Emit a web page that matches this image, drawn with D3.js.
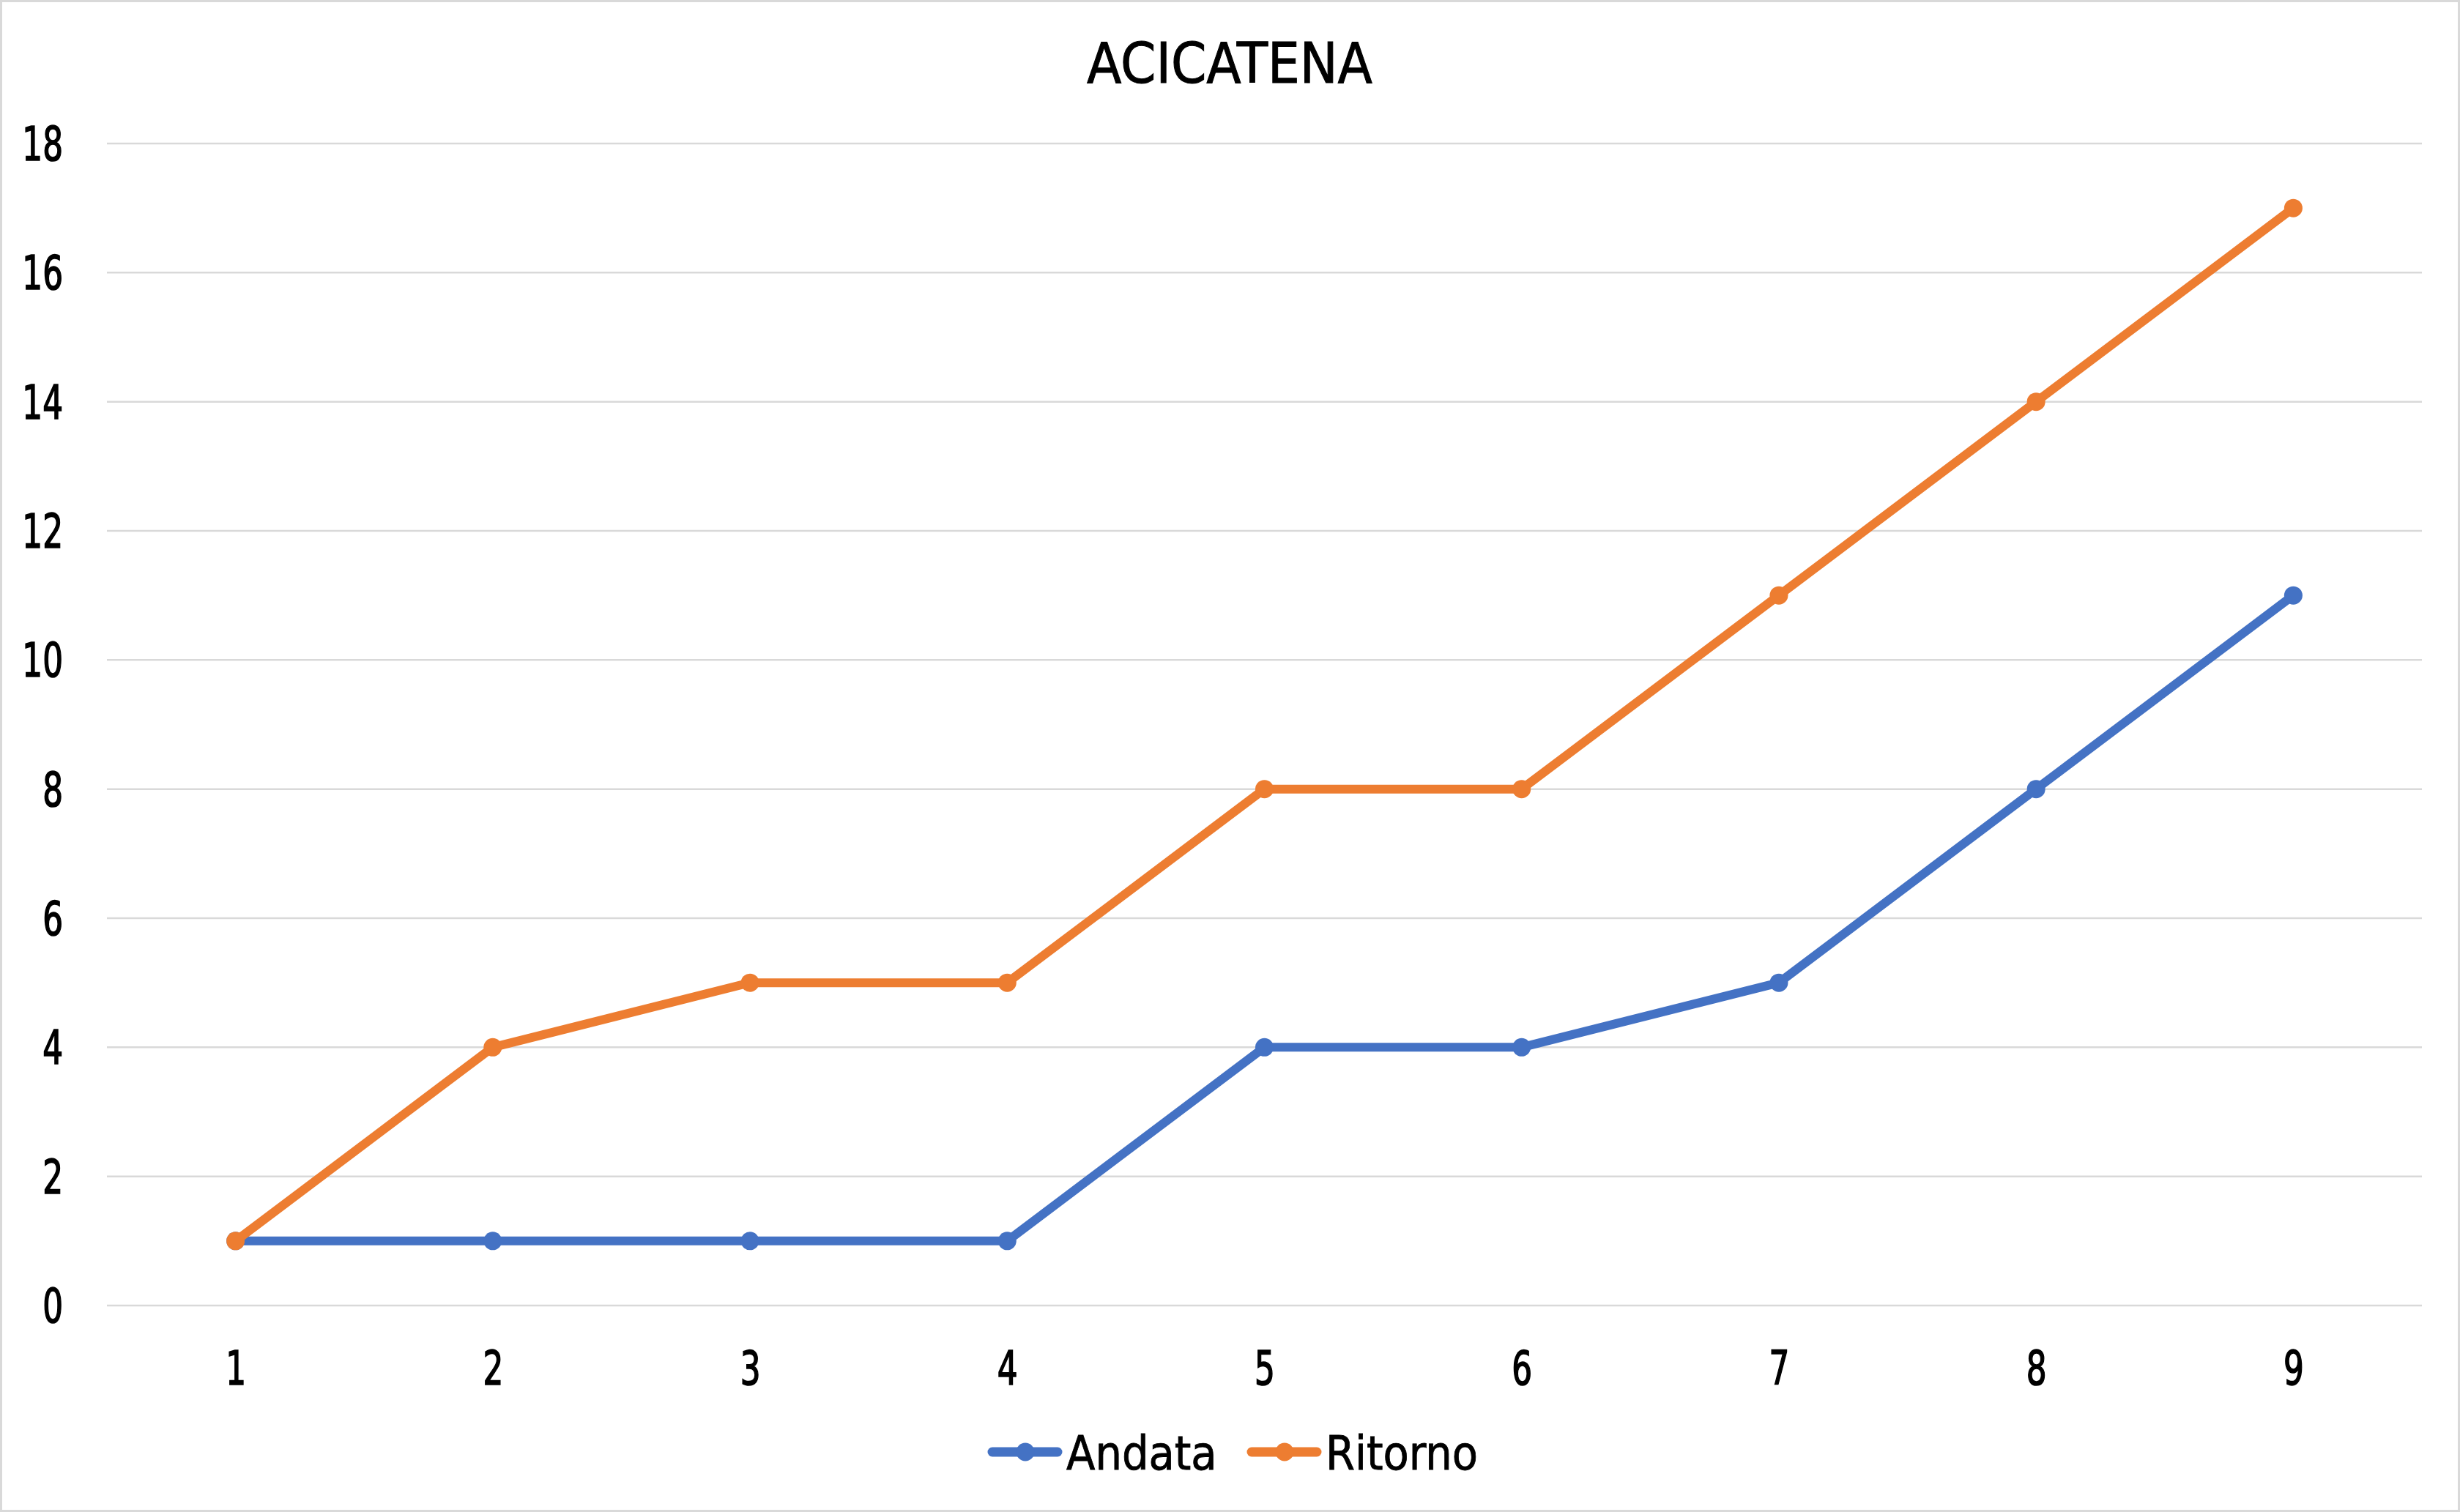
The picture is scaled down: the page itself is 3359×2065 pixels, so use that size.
<!DOCTYPE html>
<html>
<head>
<meta charset="utf-8">
<script src="https://cdn.jsdelivr.net/npm/d3@7"></script>
<style>
  html, body { margin: 0; padding: 0; background: #fff; }
  svg { display: block; }
  text { font-family: "Liberation Sans Narrow", "DejaVu Sans Condensed", "Liberation Sans", sans-serif; fill: #000; }
</style>
</head>
<body>
<script>
const title = "ACICATENA";
const categories = ["1", "2", "3", "4", "5", "6", "7", "8", "9"];
const andata = [1, 1, 1, 1, 4, 4, 5, 8, 11];
const ritorno = [1, 4, 5, 5, 8, 8, 11, 14, 17];
const yTicks = [0, 2, 4, 6, 8, 10, 12, 14, 16, 18];
const seriesNames = ["Andata", "Ritorno"];
const seriesColors = ["#4472C4", "#ED7D31"];

const W = 3359, H = 2065;
const plot = { left: 146, right: 3307, top: 196, bottom: 1783 };
const squeeze = 0.76;

const svg = d3.select("body").append("svg").attr("width", W).attr("height", H);

svg.append("rect").attr("x", 1.5).attr("y", 1.5).attr("width", W - 3).attr("height", H - 3)
  .attr("fill", "#fff").attr("stroke", "#d9d9d9").attr("stroke-width", 3);

const x = d3.scalePoint().domain(categories).range([plot.left, plot.right]).padding(0.5);
const y = d3.scaleLinear().domain([0, 18]).range([plot.bottom, plot.top]);

// gridlines
svg.append("g").selectAll("line").data(yTicks).join("line")
  .attr("x1", plot.left).attr("x2", plot.right)
  .attr("y1", d => y(d)).attr("y2", d => y(d))
  .attr("stroke", "#d9d9d9").attr("stroke-width", 2.5);

// y axis labels
const yAxis = d3.axisLeft(y).tickValues(yTicks).tickSize(0).tickPadding(60);
const gy = svg.append("g").attr("transform", `translate(${plot.left},0)`).call(yAxis);
gy.select(".domain").remove();
gy.selectAll("text").attr("font-size", 64).attr("font-family", null).attr("fill", "#000")
  .attr("stroke", "#000").attr("stroke-width", 1.6)
  .attr("dy", "0.35em").attr("x", -60 / squeeze).attr("transform", `scale(${squeeze},1)`);

// x axis labels
const xAxis = d3.axisBottom(x).tickSize(0).tickPadding(62);
const gx = svg.append("g").attr("transform", `translate(0,${plot.bottom})`).call(xAxis);
gx.select(".domain").remove();
gx.selectAll("text").attr("font-size", 64).attr("font-family", null).attr("fill", "#000")
  .attr("stroke", "#000").attr("stroke-width", 1.6)
  .attr("dy", "0.72em").attr("transform", `scale(${squeeze},1)`);

// title
svg.append("text").attr("x", 1679).attr("y", 113).attr("text-anchor", "middle")
  .attr("font-size", 77).attr("stroke", "#000").attr("stroke-width", 1).text(title);

// series
const seriesData = [andata, ritorno];
const line = d3.line().x((d, i) => x(categories[i])).y(d => y(d));
seriesData.forEach((vals, si) => {
  const g = svg.append("g");
  g.append("path").datum(vals).attr("d", line).attr("fill", "none")
    .attr("stroke", seriesColors[si]).attr("stroke-width", 12)
    .attr("stroke-linejoin", "round").attr("stroke-linecap", "round");
  g.selectAll("circle").data(vals).join("circle")
    .attr("cx", (d, i) => x(categories[i])).attr("cy", d => y(d)).attr("r", 12.5)
    .attr("fill", seriesColors[si]);
});

// legend
const legendItems = [
  { name: seriesNames[0], color: seriesColors[0], x0: 1349 },
  { name: seriesNames[1], color: seriesColors[1], x0: 1703 }
];
const ly = 1983;
legendItems.forEach(it => {
  const g = svg.append("g");
  g.append("line").attr("x1", it.x0 + 6).attr("x2", it.x0 + 95).attr("y1", ly).attr("y2", ly)
    .attr("stroke", it.color).attr("stroke-width", 13).attr("stroke-linecap", "round");
  g.append("circle").attr("cx", it.x0 + 51).attr("cy", ly).attr("r", 12.5).attr("fill", it.color);
  g.append("text").attr("x", it.x0 + 107).attr("y", 2007).attr("font-size", 64)
    .attr("stroke", "#000").attr("stroke-width", 0.8).text(it.name);
});
</script>
</body>
</html>
